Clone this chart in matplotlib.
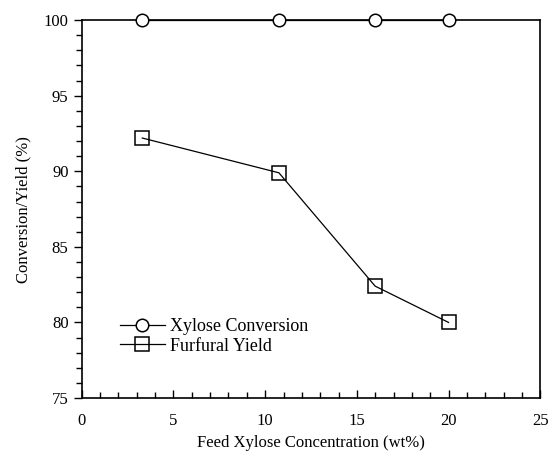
import numpy as np
import matplotlib
matplotlib.use('Agg')
import matplotlib.pyplot as plt
from matplotlib.ticker import MultipleLocator

plt.rcParams['font.family'] = ['Liberation Serif', 'DejaVu Serif']
plt.rcParams['font.size'] = 12

# data
feed_conc = [3.3, 10.75, 16.0, 20.0]
xylose_conv = [100, 100, 100, 100]
furfural_yield = [92.2, 89.9, 82.4, 80.0]

fig = plt.figure(figsize=(5.49, 4.58), dpi=100)
ax = fig.add_axes([0.149, 0.131, 0.835, 0.825])

ax.plot(feed_conc, xylose_conv, color='k', lw=0.9, marker='o', ms=9,
        mfc='white', mec='k', mew=1.1, clip_on=False, label='Xylose Conversion', zorder=3)
ax.plot(feed_conc, furfural_yield, color='k', lw=0.9, marker='s', ms=10,
        mfc='none', mec='k', mew=1.1, clip_on=False, label='Furfural Yield', zorder=3)

ax.set_xlim(0, 25)
ax.set_ylim(75, 100)
ax.xaxis.set_major_locator(MultipleLocator(5))
ax.xaxis.set_minor_locator(MultipleLocator(1))
ax.yaxis.set_major_locator(MultipleLocator(5))
ax.yaxis.set_minor_locator(MultipleLocator(1))
ax.tick_params(axis='x', which='both', direction='in', width=1.0)
ax.tick_params(axis='y', which='both', direction='out', width=1.0)
ax.tick_params(which='major', length=6)
ax.tick_params(which='minor', length=4)
ax.tick_params(axis='x', pad=11)
for s in ax.spines.values():
    s.set_linewidth(1.2)

ax.set_xlabel('Feed Xylose Concentration (wt%)', labelpad=4)
ax.set_ylabel('Conversion/Yield (%)', labelpad=9)

ax.legend(loc='upper left', bbox_to_anchor=(0.055, 0.245), frameon=False, fontsize=13,
          handlelength=2.5, handletextpad=0.3, labelspacing=0.15, borderpad=0.2)

fig.savefig('out.png', dpi=100)
